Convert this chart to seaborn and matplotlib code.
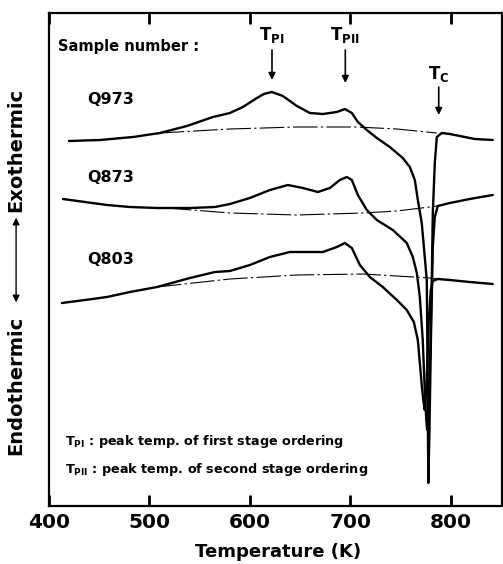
import numpy as np
import pandas as pd
import matplotlib
matplotlib.use("Agg")
import matplotlib.pyplot as plt
import seaborn as sns

sns.set_theme(style="ticks")
plt.rcParams['font.family'] = ['DejaVu Sans']
plt.rcParams['mathtext.fontset'] = 'dejavusans'
plt.rcParams.update({
    'text.color': 'black', 'axes.labelcolor': 'black', 'xtick.color': 'black',
    'xtick.direction': 'in', 'xtick.top': True, 'xtick.bottom': True,
    'xtick.major.size': 8, 'xtick.major.width': 2.0,
})

# ---- data (temperature in K, signal in arbitrary units) ----
q973_T = [419.9, 450.7, 483.6, 510.4, 537.3, 563.2, 580.1, 593.0, 607.0, 613.9, 621.9, 632.8,
          646.8, 659.7, 672.6, 686.6, 694.5, 701.5, 707.5, 716.4, 726.4, 739.3, 752.2, 759.2,
          764.2, 767.2, 771.1, 774.1, 776.1, 777.0, 777.6, 778.6, 780.1, 781.1, 782.1, 784.1,
          786.1, 791.0, 799.0, 823.9, 841.8]
q973_S = [365, 366, 369, 373, 380, 389, 393, 399, 408, 412, 414, 410,
          400, 393, 392, 394, 397, 393, 384, 376, 368, 359, 348, 339,
          326, 306, 283, 249, 226, 126, 23, 66, 156, 226, 293, 343,
          369, 373, 372, 367, 366]
q973_base_T = [510.4, 580.1, 646.8, 706.5, 746.3, 786.1]
q973_base_S = [373, 377, 379, 379, 377, 373]

q873_T = [413.9, 435.8, 457.7, 480.6, 507.5, 540.3, 565.2, 580.1, 600.0, 619.9, 637.8, 652.7,
          667.7, 679.6, 689.6, 696.5, 701.5, 707.5, 716.4, 726.4, 742.3, 756.2, 762.2, 766.2,
          769.2, 772.1, 774.1, 775.6, 776.6, 778.1, 779.6, 781.1, 782.1, 784.1, 787.1, 799.0,
          818.9, 841.8]
q873_S = [307, 304, 301, 299, 298, 298, 299, 302, 308, 316, 321, 318,
          314, 318, 326, 329, 326, 311, 296, 286, 276, 263, 249, 233,
          209, 166, 116, 86, 76, 106, 156, 209, 259, 289, 300, 303,
          307, 311]
q873_base_T = [517.4, 580.1, 646.8, 712.4, 746.3, 779.1, 787.1]
q873_base_S = [298, 293, 291, 293, 295, 299, 300]

q803_T = [412.9, 435.8, 457.7, 480.6, 507.5, 540.3, 565.2, 580.1, 600.0, 619.9, 639.8, 656.7,
          672.6, 686.6, 694.5, 701.5, 709.5, 719.4, 732.3, 746.3, 756.2, 763.2, 767.2, 769.2,
          771.1, 772.6, 774.1, 776.1, 778.1, 780.1, 782.1, 787.1, 799.0, 818.9, 841.8]
q803_S = [203, 206, 209, 214, 219, 228, 234, 235, 241, 249, 254, 254,
          254, 259, 263, 258, 241, 229, 219, 206, 196, 184, 166, 143,
          121, 106, 96, 126, 186, 216, 225, 227, 226, 224, 222]
q803_base_T = [507.5, 580.1, 646.8, 712.4, 746.3, 779.1, 787.1]
q803_base_S = [219, 227, 231, 232, 230, 228, 227]

samples = ["Q973", "Q873", "Q803"]
sample_label_S = [406, 328, 246]
xticks = [400, 500, 600, 700, 800]

peak_labels = [r"$\mathbf{T_{PI}}$", r"$\mathbf{T_{PII}}$", r"$\mathbf{T_{C}}$"]
peak_T = [622, 695, 788]
peak_label_S = [471, 471, 432]
peak_arrow_top = [456, 456, 419]
peak_arrow_bot = [426, 423, 391]

notes = [r"$\mathbf{T_{PI}}$ : peak temp. of first stage ordering",
         r"$\mathbf{T_{PII}}$ : peak temp. of second stage ordering"]
note_S = [64, 37]

# ---- figure ----
fig = plt.figure(figsize=(5.03, 5.64), dpi=100)
ax = fig.add_axes([49/503, 58/564, 453/503, 493/564])

curves = [(q973_T, q973_S), (q873_T, q873_S), (q803_T, q803_S)]
bases = [(q973_base_T, q973_base_S), (q873_base_T, q873_base_S), (q803_base_T, q803_base_S)]
for (T, S) in curves:
    df = pd.DataFrame({"T": T, "S": S})
    sns.lineplot(data=df, x="T", y="S", sort=False, estimator=None, color="black",
                 linewidth=1.7, solid_joinstyle="round", ax=ax)
for (T, S) in bases:
    df = pd.DataFrame({"T": T, "S": S})
    sns.lineplot(data=df, x="T", y="S", sort=False, estimator=None, color="black",
                 linewidth=0.8, linestyle=(0, (22, 3, 2, 3)), ax=ax)

ax.set_xlim(400, 851)
ax.set_ylim(0, 493)
ax.set_xticks(xticks)
ax.set_xticklabels([str(t) for t in xticks], fontsize=14.5, fontweight="bold")
ax.set_yticks([])
ax.tick_params(axis="x", which="major", direction="in", top=True, bottom=True,
               labeltop=False, length=8, width=2.0, pad=5, color="black")
for sp in ax.spines.values():
    sp.set_visible(True)
    sp.set_color("black")
    sp.set_linewidth(1.6)
ax.set_xlabel("")
ax.set_ylabel("")
fig.text(0.553, 0.021, "Temperature (K)", fontsize=13, fontweight="bold",
         ha="center", va="center")

ax.text(409, 459, "Sample number :", fontsize=10.5, fontweight="bold", va="center", ha="left")
for name, s in zip(samples, sample_label_S):
    ax.text(438, s, name, fontsize=11.5, fontweight="bold", va="center", ha="left")

for lab, t, sl, at, ab in zip(peak_labels, peak_T, peak_label_S, peak_arrow_top, peak_arrow_bot):
    ax.text(t, sl, lab, fontsize=12, ha="center", va="center")
    ax.annotate("", xy=(t, ab), xytext=(t, at),
                arrowprops=dict(arrowstyle="-|>", color="black", lw=1.2,
                                mutation_scale=10, shrinkA=0, shrinkB=0))

for txt, s in zip(notes, note_S):
    ax.text(416, s, txt, fontsize=9.2, fontweight="bold", va="center", ha="left")

# y-axis label: Endothermic <-> Exothermic
fig.text(0.032, 0.734, "Exothermic", rotation=90, fontsize=14, fontweight="bold",
         ha="center", va="center")
fig.text(0.032, 0.317, "Endothermic", rotation=90, fontsize=14, fontweight="bold",
         ha="center", va="center")
fig.add_artist(matplotlib.patches.FancyArrowPatch((0.032, 0.459), (0.032, 0.619),
               transform=fig.transFigure, arrowstyle="<|-|>", mutation_scale=10,
               color="black", lw=1.0))

fig.savefig("out.png", dpi=100, facecolor="white")
